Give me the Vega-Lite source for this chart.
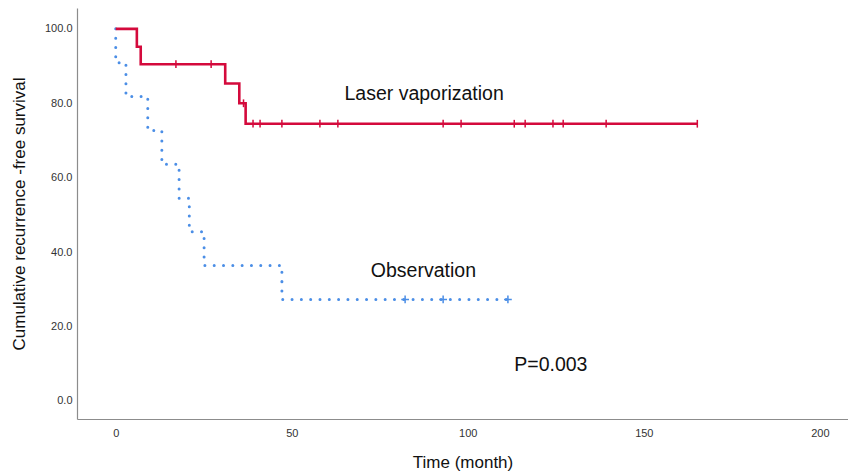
{
  "$schema": "https://vega.github.io/schema/vega-lite/v6.json",
  "autosize": {"type": "none"},
  "width": 771,
  "height": 411,
  "padding": {"left": 77, "top": 8, "right": 0, "bottom": 52},
  "background": "white",
  "config": {
    "view": {"stroke": null},
    "font": "Liberation Sans",
    "axis": {
      "grid": false,
      "ticks": false,
      "domainColor": "#8c8c8c",
      "domainWidth": 1.2,
      "labelColor": "#333333",
      "labelFont": "Liberation Sans",
      "labelFontSize": 11,
      "titleFont": "Liberation Sans",
      "titleFontWeight": "normal",
      "titleColor": "#111111",
      "titleFontSize": 17
    }
  },
  "datasets": {
    "curves": [
      {"group": "Laser vaporization", "time": 0, "surv": 100},
      {"group": "Laser vaporization", "time": 6.0, "surv": 95.2},
      {"group": "Laser vaporization", "time": 7.1, "surv": 90.5},
      {"group": "Laser vaporization", "time": 31.1, "surv": 85.3},
      {"group": "Laser vaporization", "time": 35.1, "surv": 80.0},
      {"group": "Laser vaporization", "time": 36.9, "surv": 74.5},
      {"group": "Laser vaporization", "time": 165.2, "surv": 74.5},
      {"group": "Observation", "time": 0, "surv": 100},
      {"group": "Observation", "time": 0, "surv": 90.9},
      {"group": "Observation", "time": 2.9, "surv": 81.8},
      {"group": "Observation", "time": 9.1, "surv": 72.7},
      {"group": "Observation", "time": 13.1, "surv": 63.6},
      {"group": "Observation", "time": 18.0, "surv": 54.5},
      {"group": "Observation", "time": 20.9, "surv": 45.5},
      {"group": "Observation", "time": 25.1, "surv": 36.4},
      {"group": "Observation", "time": 47.2, "surv": 27.3},
      {"group": "Observation", "time": 111.4, "surv": 27.3}
    ],
    "censors": [
      {"group": "Laser vaporization", "time": 17.1, "surv": 90.5},
      {"group": "Laser vaporization", "time": 27.1, "surv": 90.5},
      {"group": "Laser vaporization", "time": 36.3, "surv": 80.0},
      {"group": "Laser vaporization", "time": 39.0, "surv": 74.5},
      {"group": "Laser vaporization", "time": 41.0, "surv": 74.5},
      {"group": "Laser vaporization", "time": 47.2, "surv": 74.5},
      {"group": "Laser vaporization", "time": 58.0, "surv": 74.5},
      {"group": "Laser vaporization", "time": 63.1, "surv": 74.5},
      {"group": "Laser vaporization", "time": 93.0, "surv": 74.5},
      {"group": "Laser vaporization", "time": 98.1, "surv": 74.5},
      {"group": "Laser vaporization", "time": 113.2, "surv": 74.5},
      {"group": "Laser vaporization", "time": 116.3, "surv": 74.5},
      {"group": "Laser vaporization", "time": 124.2, "surv": 74.5},
      {"group": "Laser vaporization", "time": 127.1, "surv": 74.5},
      {"group": "Laser vaporization", "time": 139.3, "surv": 74.5},
      {"group": "Laser vaporization", "time": 165.2, "surv": 74.5},
      {"group": "Observation", "time": 82.2, "surv": 27.3},
      {"group": "Observation", "time": 93.0, "surv": 27.3},
      {"group": "Observation", "time": 111.4, "surv": 27.3}
    ],
    "labels": [
      {"label": "Laser vaporization", "time": 87.6, "surv": 82.5},
      {"label": "Observation", "time": 87.4, "surv": 34.8},
      {"label": "P=0.003", "time": 123.6, "surv": 9.7}
    ]
  },
  "encoding": {
    "x": {
      "field": "time",
      "type": "quantitative",
      "scale": {"domain": [-11, 208], "nice": false, "zero": false},
      "axis": {
        "title": "Time (month)",
        "values": [0, 50, 100, 150, 200],
        "labelPadding": 8,
        "titlePadding": 16
      }
    },
    "y": {
      "field": "surv",
      "type": "quantitative",
      "scale": {"domain": [-4.84, 105.6], "nice": false, "zero": false},
      "axis": {
        "title": "Cumulative recurrence -free survival",
        "values": [0, 20, 40, 60, 80, 100],
        "format": ".1f",
        "labelPadding": 5,
        "titlePadding": 16
      }
    }
  },
  "layer": [
    {
      "data": {"name": "curves"},
      "transform": [{"filter": "datum.group === 'Observation'"}],
      "mark": {
        "type": "line",
        "interpolate": "step-after",
        "color": "#4b8ee6",
        "strokeWidth": 3,
        "strokeCap": "round",
        "strokeDash": [0.01, 9.3]
      },
      "encoding": {
        "order": [{"field": "time", "type": "quantitative"}, {"field": "surv", "type": "quantitative", "sort": "descending"}]
      }
    },
    {
      "data": {"name": "curves"},
      "transform": [{"filter": "datum.group === 'Laser vaporization'"}],
      "mark": {
        "type": "line",
        "interpolate": "step-after",
        "color": "#d40a3c",
        "strokeWidth": 2.6
      },
      "encoding": {
        "order": [{"field": "time", "type": "quantitative"}, {"field": "surv", "type": "quantitative", "sort": "descending"}]
      }
    },
    {
      "data": {"name": "censors"},
      "transform": [{"filter": "datum.group === 'Laser vaporization'"}],
      "mark": {
        "type": "point",
        "shape": "M0,-1V1",
        "filled": false,
        "stroke": "#d40a3c",
        "strokeWidth": 1.5,
        "size": 60,
        "opacity": 1
      }
    },
    {
      "data": {"name": "censors"},
      "transform": [{"filter": "datum.group === 'Observation'"}],
      "mark": {
        "type": "point",
        "shape": "M-1,0H1M0,-1V1",
        "filled": false,
        "stroke": "#4b8ee6",
        "strokeWidth": 1.5,
        "size": 60,
        "opacity": 1
      }
    },
    {
      "data": {"name": "labels"},
      "mark": {
        "type": "text",
        "font": "Liberation Sans",
        "fontSize": 19.5,
        "color": "#111111",
        "align": "center",
        "baseline": "middle"
      },
      "encoding": {
        "text": {"field": "label", "type": "nominal"}
      }
    }
  ]
}
